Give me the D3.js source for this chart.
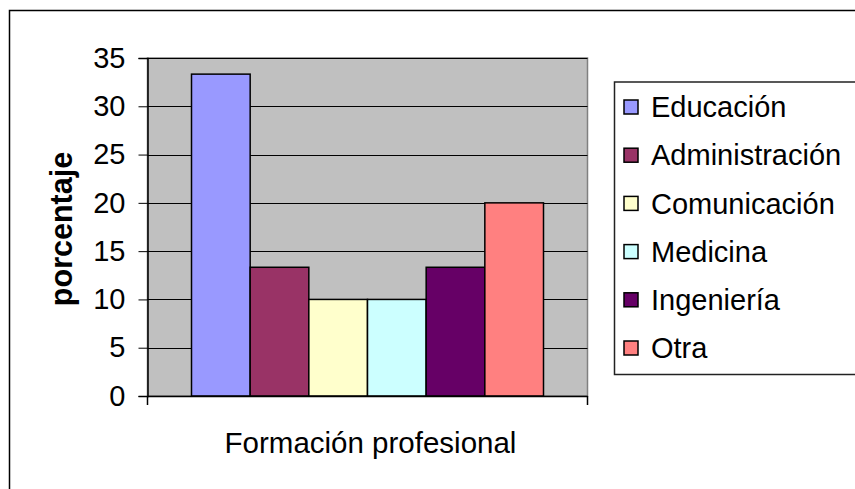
<!DOCTYPE html>
<html><head><meta charset="utf-8">
<script src="https://cdn.jsdelivr.net/npm/d3@7"></script>
<style>body{margin:0;background:#fff}svg{display:block}text{font-family:"Liberation Sans",Arial,sans-serif}</style>
</head><body><svg id="c" width="855" height="489"></svg>
<script>
const categories = ["Educación","Administración","Comunicación","Medicina","Ingeniería","Otra"];
const values = [33.33, 13.33, 10, 10, 13.33, 20];
const colors = ["#9999FF","#993366","#FFFFCC","#CCFFFF","#660066","#FF8080"];
const yTicks = [0,5,10,15,20,25,30,35];
const xTitle = "Formación profesional";
const yTitle = "porcentaje";

const svg = d3.select("#c");
const L = 147.5, R = 587.5, T = 58, B = 396;
const gapRatio = 1.5;
const bw = (R - L) / (categories.length + gapRatio);
const x = d3.scaleBand().domain(categories).range([L + bw*gapRatio/2, R - bw*gapRatio/2]).padding(0);
const y = d3.scaleLinear().domain([0,35]).range([B, T]);

// outer chart border
svg.append("rect").attr("x",9.5).attr("y",10.5).attr("width",900).attr("height",600)
  .attr("fill","#fff").attr("stroke","#000").attr("stroke-width",1.5);

// plot area
svg.append("rect").attr("x",L).attr("y",T).attr("width",R-L).attr("height",B-T)
  .attr("fill","#C0C0C0").attr("stroke","#808080").attr("stroke-width",1.5);

// gridlines
svg.append("g").selectAll("line").data(yTicks.filter(d=>d>0)).join("line")
  .attr("x1",L).attr("x2",R).attr("y1",d=>Math.round(y(d))+0.5).attr("y2",d=>Math.round(y(d))+0.5)
  .attr("stroke","#000").attr("stroke-width",1);

// bars
svg.append("g").selectAll("rect").data(categories).join("rect")
  .attr("x",d=>x(d)).attr("width",x.bandwidth())
  .attr("y",(d,i)=>y(values[i])).attr("height",(d,i)=>B - y(values[i]))
  .attr("fill",(d,i)=>colors[i]).attr("stroke","#000").attr("stroke-width",1.5);

// y axis
const yAxis = d3.axisLeft(y).tickValues(yTicks).tickSize(9).tickPadding(13).tickFormat(d3.format("d"));
const gy = svg.append("g").attr("transform",`translate(${L},0)`).call(yAxis);
gy.select(".domain").attr("stroke","#000").attr("stroke-width",1.5);
gy.selectAll(".tick line").attr("stroke","#000").attr("stroke-width",1);
gy.selectAll(".tick text").attr("font-size",29).attr("fill","#000").attr("font-family","Liberation Sans, Arial, sans-serif");

// x axis (single category -> boundary ticks)
const xc = d3.scaleBand().domain([xTitle]).range([L,R]);
const xAxis = d3.axisBottom(xc).tickSize(0).tickFormat("");
const gx = svg.append("g").attr("transform",`translate(0,${B})`).call(xAxis);
gx.select(".domain").attr("stroke","#000").attr("stroke-width",1.5);
gx.selectAll(".edge").data([L,R]).join("line").attr("class","edge")
  .attr("x1",d=>d).attr("x2",d=>d).attr("y1",0).attr("y2",9).attr("stroke","#000").attr("stroke-width",1.5);

// titles
svg.append("text").attr("x",(L+R)/2 + 3).attr("y",453).attr("text-anchor","middle")
  .attr("font-size",29.5).text(xTitle);
svg.append("text").attr("transform","translate(72,229) rotate(-90)").attr("text-anchor","middle")
  .attr("font-size",30.5).attr("font-weight","bold").text(yTitle);

// legend
const lg = svg.append("g");
lg.append("rect").attr("x",614.5).attr("y",82).attr("width",300).attr("height",292.5)
  .attr("fill","#fff").attr("stroke","#222").attr("stroke-width",1.5);
const ly = d3.scalePoint().domain(categories).range([107, 348]);
const items = lg.selectAll("g.it").data(categories).join("g").attr("class","it")
  .attr("transform",d=>`translate(0,${ly(d)})`);
items.append("rect").attr("x",624).attr("y",-7).attr("width",14).attr("height",14)
  .attr("fill",(d,i)=>colors[i]).attr("stroke","#000").attr("stroke-width",1.5);
items.append("text").attr("x",651).attr("y",0).attr("dy","0.35em").attr("font-size",29).text(d=>d);
</script></body></html>
